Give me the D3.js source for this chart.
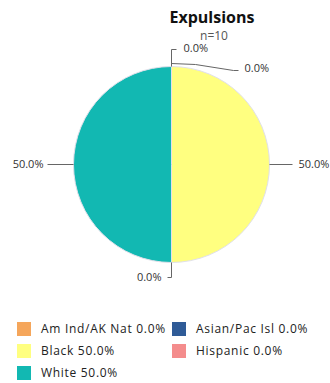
<!DOCTYPE html>
<html><head><meta charset="utf-8">
<script src="https://cdn.jsdelivr.net/npm/d3@7"></script>
<style>body{margin:0;background:#fff}svg{display:block}</style>
</head><body><svg id="c" width="330" height="383"></svg>
<script>
const title = "Expulsions";
const subtitle = "n=10";
const categories = ["Am Ind/AK Nat", "Asian/Pac Isl", "Black", "Hispanic", "White"];
const values = [0.0, 0.0, 50.0, 0.0, 50.0];
const colors = ["#F5A65B", "#2F5B97", "#FFFF80", "#F48C8C", "#12B8B2"];

const svg = d3.select("#c");
const cx = 171.5, cy = 164.5, r = 98;
const font = "'Open Sans', sans-serif";

svg.append("text").attr("x", 212).attr("y", 23).attr("text-anchor", "middle")
  .attr("font-family", font).attr("font-weight", "bold").attr("font-size", 16)
  .attr("fill", "#111").text(title);
svg.append("text").attr("x", 214).attr("y", 40).attr("text-anchor", "middle")
  .attr("font-family", font).attr("font-size", 12).attr("fill", "#555").text(subtitle);

const data = categories.map((c, i) => ({cat: c, v: values[i], color: colors[i], i}));
const pie = d3.pie().sort(null).value(d => d.v);
const arcs = pie(data);
const arc = d3.arc().innerRadius(0).outerRadius(r);
const g = svg.append("g").attr("transform", `translate(${cx},${cy})`);
g.selectAll("path").data(arcs.filter(a => a.data.v > 0)).join("path")
  .attr("d", arc).attr("fill", d => d.data.color)
  .attr("stroke", "#e0e0ea").attr("stroke-width", 1);

const fmt = v => v.toFixed(1) + "%";
const leaders = [
  {pts: [[0,0],[0,-17],[5,-17]], tx: 12, ty: -18, anchor: "start"},
  {pts: [[0,-3],[24,-2],[62,4],[67,4]], tx: 73, ty: 2, anchor: "start"},
  {pts: [[0,0],[23,0]], tx: 29, ty: 0, anchor: "start"},
  {pts: [[0,0],[0,15],[-4,15]], tx: -10, ty: 15, anchor: "end"},
  {pts: [[0,0],[-26,0]], tx: -30, ty: 0, anchor: "end"}
];
const lg = g.append("g");
arcs.forEach((a, i) => {
  const mid = (a.startAngle + a.endAngle) / 2;
  const ex = Math.sin(mid) * r, ey = -Math.cos(mid) * r;
  const L = leaders[i];
  lg.append("path").attr("d", d3.line()(L.pts.map(p => [ex + p[0], ey + p[1]])))
    .attr("fill", "none").attr("stroke", "#666").attr("stroke-width", 1);
  lg.append("text").attr("x", ex + L.tx).attr("y", ey + L.ty).attr("dy", "0.35em")
    .attr("text-anchor", L.anchor).attr("font-family", font).attr("font-size", 11)
    .attr("fill", "#333").text(fmt(a.data.v));
});

const leg = svg.append("g");
data.forEach((d, i) => {
  const col = i % 2, row = Math.floor(i / 2);
  const x = col === 0 ? 17 : 172, y = 329 + row * 22;
  leg.append("rect").attr("x", x).attr("y", y - 7).attr("width", 14).attr("height", 14)
    .attr("fill", d.color);
  leg.append("text").attr("x", x + 24).attr("y", y).attr("dy", "0.35em")
    .attr("font-family", font).attr("font-size", 12).attr("letter-spacing", 0.7).attr("fill", "#222")
    .text(d.cat + " " + fmt(d.v));
});
</script></body></html>
